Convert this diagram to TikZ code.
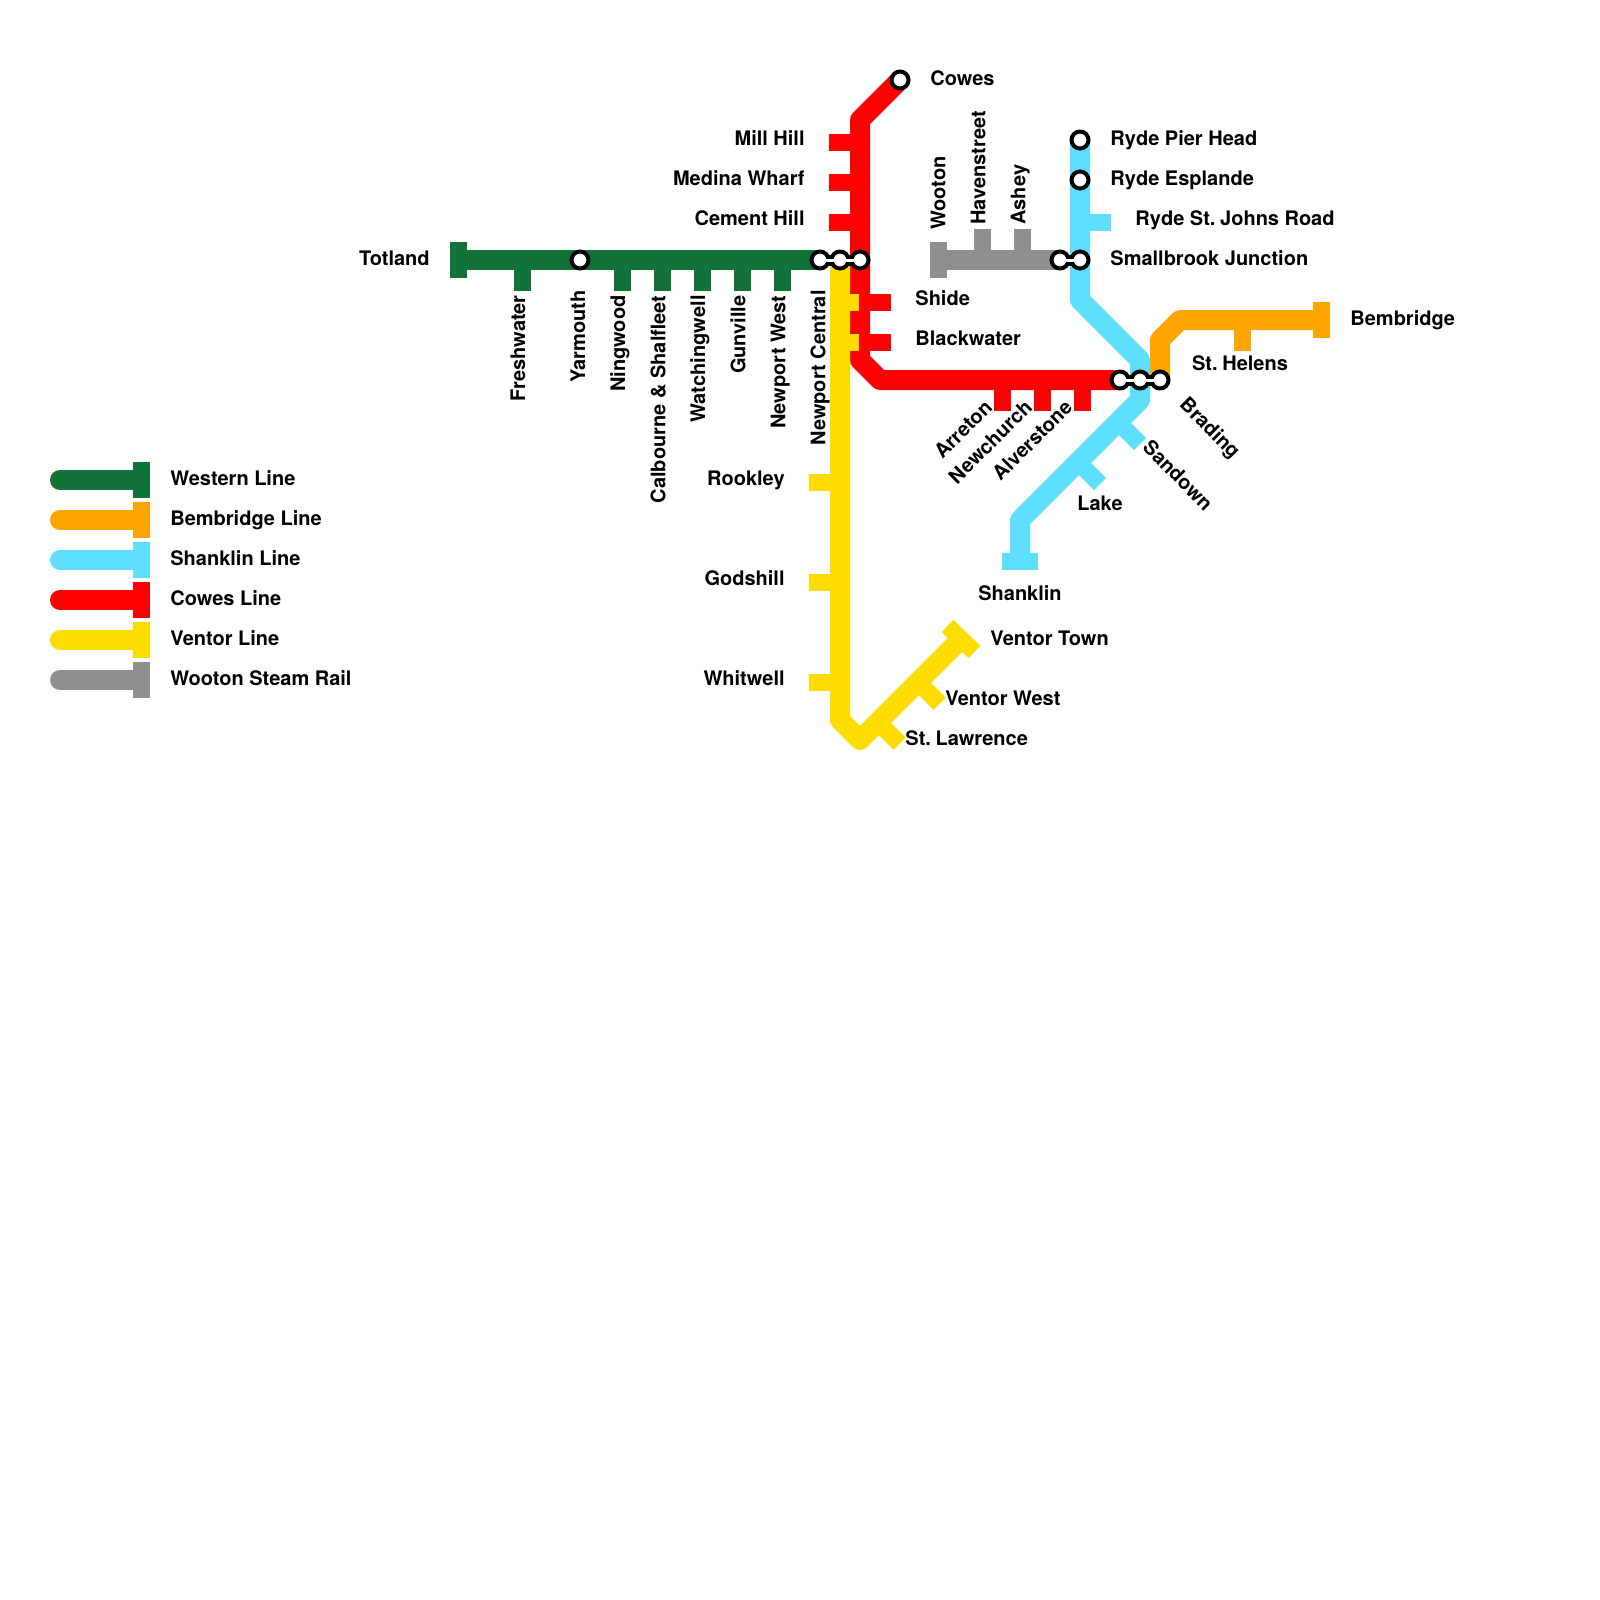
\documentclass[tikz,border=0pt]{standalone}
\usepackage{fontspec}
\setmainfont{TeX Gyre Heros}
\usetikzlibrary{backgrounds}
\definecolor{cGreen}{HTML}{137239}
\definecolor{cOrange}{HTML}{FFA500}
\definecolor{cBlue}{HTML}{5EDFFF}
\definecolor{cRed}{HTML}{FF0000}
\definecolor{cYellow}{HTML}{FFDC00}
\definecolor{cGrey}{HTML}{8F8F8F}
\newcommand{\stdot}{St.\kern-0.45pt\ }
\tikzset{
  track/.style={line width=10pt,line join=round},
  legline/.style={line width=10pt,line cap=round},
  tick/.style={line width=8.5pt},
  stn/.style={circle,draw=black,fill=white,line width=2pt,minimum size=8.5pt,inner sep=0pt},
  linkouter/.style={line width=5.5pt,draw=black},
  linkinner/.style={line width=1.5pt,draw=white},
  lbl/.style={font=\fontsize{10pt}{12pt}\selectfont\bfseries,inner sep=0pt,text=black},
  lr/.style={lbl,anchor=mid west},
  ll/.style={lbl,anchor=mid east},
  lc/.style={lbl,anchor=mid},
  up/.style={lbl,rotate=90,anchor=mid east},
  upb/.style={lbl,rotate=90,anchor=mid west},
  dgu/.style={lbl,rotate=45,anchor=mid east},
  dgd/.style={lbl,rotate=-45,anchor=mid west},
}
\begin{document}
\begin{tikzpicture}[x=0.5pt,y=-0.5pt]
\useasboundingbox (0,0) rectangle (1600,1600);
% stations
\node[stn] (yarmouth) at (580,260) {};
\node[stn] (xw) at (820,260) {};
\node[stn] (xy) at (840,260) {};
\node[stn] (xr) at (860,260) {};
\node[stn] (cowes) at (900,80) {};
\node[stn] (ryp) at (1080,140) {};
\node[stn] (rye) at (1080,180) {};
\node[stn] (sbw) at (1060,260) {};
\node[stn] (sbb) at (1080,260) {};
\node[stn] (brr) at (1120,380) {};
\node[stn] (brb) at (1140,380) {};
\node[stn] (bro) at (1160,380) {};
% way-points
\coordinate (gA) at (450,260);
\coordinate (gTa) at (458.5,242); \coordinate (gTb) at (458.5,278);
\coordinate (gf1) at (522.5,260); \coordinate (gf2) at (522.5,291);
\coordinate (gn1) at (622.5,260); \coordinate (gn2) at (622.5,291);
\coordinate (gc1) at (662.5,260); \coordinate (gc2) at (662.5,291);
\coordinate (gw1) at (702.5,260); \coordinate (gw2) at (702.5,291);
\coordinate (gv1) at (742.5,260); \coordinate (gv2) at (742.5,291);
\coordinate (gp1) at (782.5,260); \coordinate (gp2) at (782.5,291);
\coordinate (rB) at (860,120); \coordinate (rC) at (860,360); \coordinate (rD) at (880,380);
\coordinate (rm1) at (829,142.5); \coordinate (rm2) at (860,142.5);
\coordinate (rw1) at (829,182.5); \coordinate (rw2) at (860,182.5);
\coordinate (rh1) at (829,222.5); \coordinate (rh2) at (860,222.5);
\coordinate (rs1) at (860,302.5); \coordinate (rs2) at (891,302.5);
\coordinate (rb1) at (860,342.5); \coordinate (rb2) at (891,342.5);
\coordinate (ra1) at (1002.5,380); \coordinate (ra2) at (1002.5,411);
\coordinate (rn1) at (1042.5,380); \coordinate (rn2) at (1042.5,411);
\coordinate (rl1) at (1082.5,380); \coordinate (rl2) at (1082.5,411);
\coordinate (yA) at (840,720); \coordinate (yB) at (860,740); \coordinate (yC) at (961,639);
\coordinate (yTa) at (947.5,626); \coordinate (yTb) at (974.5,652);
\coordinate (ys1) at (840,302.5); \coordinate (ys2) at (859,302.5);
\coordinate (yb1) at (840,342.5); \coordinate (yb2) at (859,342.5);
\coordinate (yr1) at (809,482.5); \coordinate (yr2) at (840,482.5);
\coordinate (yg1) at (809,582.5); \coordinate (yg2) at (840,582.5);
\coordinate (yh1) at (809,682.5); \coordinate (yh2) at (840,682.5);
\coordinate (yl1) at (878,722); \coordinate (yl2) at (899.7,743.7);
\coordinate (yv1) at (918,682); \coordinate (yv2) at (939.7,703.7);
\coordinate (bA) at (1080,300); \coordinate (bB) at (1140,360); \coordinate (bC) at (1140,400);
\coordinate (bD) at (1020,520); \coordinate (bE) at (1020,561.5);
\coordinate (bTa) at (1002,561.5); \coordinate (bTb) at (1038,561.5);
\coordinate (bj1) at (1080,222.5); \coordinate (bj2) at (1111,222.5);
\coordinate (bs1) at (1118,422); \coordinate (bs2) at (1140,444);
\coordinate (bk1) at (1078,462); \coordinate (bk2) at (1100,484);
\coordinate (oA) at (1160,340); \coordinate (oB) at (1180,320); \coordinate (oC) at (1321.5,320);
\coordinate (oTa) at (1321.5,302); \coordinate (oTb) at (1321.5,338);
\coordinate (oh1) at (1242.5,320); \coordinate (oh2) at (1242.5,351);
\coordinate (wA) at (938.5,260); \coordinate (wTa) at (938.5,242); \coordinate (wTb) at (938.5,278);
\coordinate (wh1) at (982.5,260); \coordinate (wh2) at (982.5,229);
\coordinate (wa1) at (1022.5,260); \coordinate (wa2) at (1022.5,229);
\foreach \i/\y in {1/480,2/520,3/560,4/600,5/640,6/680}{
  \coordinate (La\i) at (60,\y); \coordinate (Lb\i) at (136,\y);
  \coordinate (Lc\i) at (141.5,\y-18); \coordinate (Ld\i) at (141.5,\y+18);
}
\begin{scope}[on background layer]
\fill[white] (0,0) rectangle (1600,1600);
% grey
\draw[track,cGrey] (wA) -- (sbw.center);
\draw[tick,cGrey] (wTa) -- (wTb);
\draw[tick,cGrey] (wh1) -- (wh2);
\draw[tick,cGrey] (wa1) -- (wa2);
% green
\draw[track,cGreen] (gA) -- (xw.center);
\draw[tick,cGreen] (gTa) -- (gTb);
\foreach \s in {f,n,c,w,v,p}{\draw[tick,cGreen] (g\s1) -- (g\s2);}
% orange
\draw[track,cOrange] (bro.center) -- (oA) -- (oB) -- (oC);
\draw[tick,cOrange] (oTa) -- (oTb);
\draw[tick,cOrange] (oh1) -- (oh2);
% blue
\draw[track,cBlue] (ryp.center) -- (bA) -- (bB) -- (bC) -- (bD) -- (bE);
\draw[tick,cBlue] (bTa) -- (bTb);
\draw[tick,cBlue] (bj1) -- (bj2);
\draw[tick,cBlue] (bs1) -- (bs2);
\draw[tick,cBlue] (bk1) -- (bk2);
% red
\draw[track,cRed] (cowes.center) -- (rB) -- (rC) -- (rD) -- (brr.center);
\foreach \s in {m,w,h,s,b,a,n,l}{\draw[tick,cRed] (r\s1) -- (r\s2);}
% yellow
\draw[track,cYellow] (xy.center) -- (yA) -- (yB) -- (yC);
\draw[tick,cYellow] (yTa) -- (yTb);
\foreach \s in {s,b,r,g,h,l,v}{\draw[tick,cYellow] (y\s1) -- (y\s2);}
% interchange outlines
\draw[linkouter] (xw.center) -- (xr.center);
\draw[linkouter] (sbw.center) -- (sbb.center);
\draw[linkouter] (brr.center) -- (bro.center);
% legend
\foreach \i/\c in {1/cGreen,2/cOrange,3/cBlue,4/cRed,5/cYellow,6/cGrey}{
  \draw[legline,\c] (La\i) -- (Lb\i);
  \draw[tick,\c] (Lc\i) -- (Ld\i);
}
\end{scope}
% interchange inner links
\draw[linkinner] (xw.center) -- (xr.center);
\draw[linkinner] (sbw.center) -- (sbb.center);
\draw[linkinner] (brr.center) -- (bro.center);
% labels
\node[lr] (tCowes) at (930,80) {Cowes};
\node[ll] (tMill) at (805,140) {Mill Hill};
\node[ll] (tMedina) at (805,180) {Medina Wharf};
\node[ll] (tCement) at (805,220) {Cement Hill};
\node[ll] (tTotland) at (430,260) {Totland};
\node[lr] (tShide) at (915,300) {Shide};
\node[lr] (tBlack) at (915,340) {Blackwater};
\node[lr] (tPier) at (1110,140) {Ryde Pier Head};
\node[lr] (tEsp) at (1110,180) {Ryde Esplande};
\node[lr] (tJohns) at (1135,220) {Ryde \stdot Johns Road};
\node[lr] (tSmall) at (1110,260) {Smallbrook Junction};
\node[lr] (tBemb) at (1350,320) {Bembridge};
\node[lc] (tHelens) at (1240,365) {\stdot Helens};
\node[lc] (tShank) at (1020,595) {Shanklin};
\node[lc] (tLake) at (1100,505) {Lake};
\node[ll] (tRook) at (785,480) {Rookley};
\node[ll] (tGod) at (785,580) {Godshill};
\node[ll] (tWhit) at (785,680) {Whitwell};
\node[lr] (tVT) at (990,640) {Ventor Town};
\node[lr] (tVW) at (945,700) {Ventor West};
\node[lr] (tSL) at (905,740) {\stdot Lawrence};
\node[up] (tFresh) at (520,295) {Freshwater};
\node[up] (tYar) at (580,290) {Yarmouth};
\node[up] (tNing) at (620,295) {Ningwood};
\node[up] (tCalb) at (660,295) {Calbourne \& Shalfleet};
\node[up] (tWatch) at (700,295) {Watchingwell};
\node[up] (tGun) at (740,295) {Gunville};
\node[up] (tNW) at (780,295) {Newport West};
\node[up] (tNC) at (820,290) {Newport Central};
\node[upb] (tWoot) at (940,230) {Wooton};
\node[upb] (tHav) at (980,225) {Havenstreet};
\node[upb] (tAsh) at (1020,225) {Ashey};
\node[dgu] (tArr) at (990,405) {Arreton};
\node[dgu] (tNew) at (1030,405) {Newchurch};
\node[dgu] (tAlv) at (1070,405) {Alverstone};
\node[dgd] (tBrad) at (1182,402) {Brading};
\node[dgd] (tSan) at (1145,445) {Sandown};
\node[lr] (tL1) at (170,480) {Western Line};
\node[lr] (tL2) at (170,520) {Bembridge Line};
\node[lr] (tL3) at (170,560) {Shanklin Line};
\node[lr] (tL4) at (170,600) {Cowes Line};
\node[lr] (tL5) at (170,640) {Ventor Line};
\node[lr] (tL6) at (170,680) {Wooton Steam Rail};
\end{tikzpicture}
\end{document}
